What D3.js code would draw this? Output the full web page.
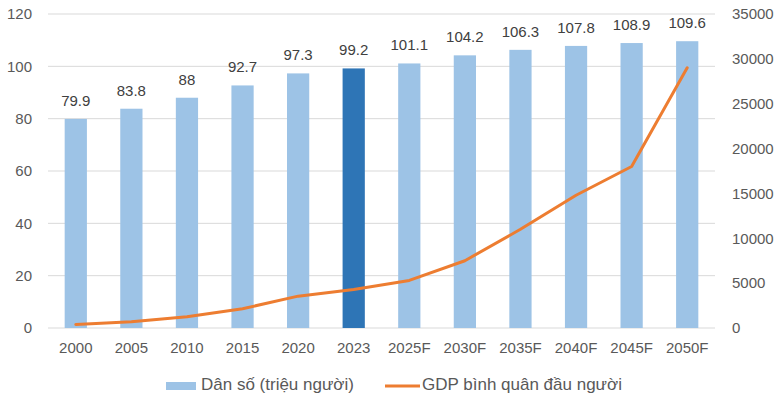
<!DOCTYPE html>
<html>
<head>
<meta charset="utf-8">
<script src="https://cdn.jsdelivr.net/npm/d3@7"></script>
<style>
  html, body { margin: 0; padding: 0; background: #fff; }
  svg { display: block; }
</style>
</head>
<body>
<svg id="chart" width="780" height="400"></svg>
<script>
const categories = ["2000","2005","2010","2015","2020","2023","2025F","2030F","2035F","2040F","2045F","2050F"];
const population = [79.9, 83.8, 88, 92.7, 97.3, 99.2, 101.1, 104.2, 106.3, 107.8, 108.9, 109.6];
const gdpPerCapita = [400, 700, 1250, 2150, 3550, 4300, 5300, 7500, 11000, 14800, 18000, 29000];
const leftTicks = [0, 20, 40, 60, 80, 100, 120];
const rightTicks = [0, 5000, 10000, 15000, 20000, 25000, 30000, 35000];
const highlight = "2023";
const seriesNames = ["Dân số (triệu người)", "GDP bình quân đầu người"];

const svg = d3.select("#chart");
const font = "'Liberation Sans', Arial, sans-serif";
const textColor = "#595959";

const plot = { left: 48, right: 715, top: 14, bottom: 328 };

const x = d3.scaleBand().domain(categories).range([plot.left, plot.right]).paddingInner(0.6).paddingOuter(0.3);
const yL = d3.scaleLinear().domain([0, 120]).range([plot.bottom, plot.top]);
const yR = d3.scaleLinear().domain([0, 35000]).range([plot.bottom, plot.top]);

// gridlines
svg.append("g").selectAll("line").data(leftTicks).join("line")
  .attr("x1", plot.left).attr("x2", plot.right)
  .attr("y1", d => yL(d)).attr("y2", d => yL(d))
  .attr("stroke", "#d9d9d9").attr("stroke-width", 1);

// left axis
const axL = svg.append("g").attr("transform", `translate(${plot.left},0)`)
  .call(d3.axisLeft(yL).tickValues(leftTicks).tickSize(0).tickPadding(16));
axL.select(".domain").remove();
axL.selectAll("text").attr("font-family", font).attr("font-size", 15).attr("fill", textColor);

// right axis
const axR = svg.append("g").attr("transform", `translate(${plot.right},0)`)
  .call(d3.axisRight(yR).tickValues(rightTicks).tickSize(0).tickPadding(17).tickFormat(d3.format("d")));
axR.select(".domain").remove();
axR.selectAll("text").attr("font-family", font).attr("font-size", 15).attr("fill", textColor);

// bottom axis
const axB = svg.append("g").attr("transform", `translate(0,${plot.bottom})`)
  .call(d3.axisBottom(x).tickSize(0).tickPadding(14));
axB.select(".domain").remove();
axB.selectAll("text").attr("font-family", font).attr("font-size", 15).attr("fill", textColor);

// bars
svg.append("g").selectAll("rect").data(categories).join("rect")
  .attr("x", d => x(d))
  .attr("width", x.bandwidth())
  .attr("y", (d, i) => yL(population[i]))
  .attr("height", (d, i) => yL(0) - yL(population[i]))
  .attr("fill", d => d === highlight ? "#2e75b6" : "#9dc3e6");

// bar labels
svg.append("g").selectAll("text").data(categories).join("text")
  .attr("x", d => x(d) + x.bandwidth() / 2)
  .attr("y", (d, i) => yL(population[i]) - 13)
  .attr("text-anchor", "middle")
  .attr("font-family", font).attr("font-size", 15).attr("fill", "#404040")
  .text((d, i) => population[i]);

// line
const line = d3.line()
  .x((d, i) => x(categories[i]) + x.bandwidth() / 2)
  .y(d => yR(d));
svg.append("path").datum(gdpPerCapita)
  .attr("d", line)
  .attr("fill", "none")
  .attr("stroke", "#ed7d31")
  .attr("stroke-width", 3)
  .attr("stroke-linejoin", "round")
  .attr("stroke-linecap", "round");

// legend
const lg = svg.append("g").attr("font-family", font).attr("font-size", 17).attr("fill", textColor);
lg.append("rect").attr("x", 166).attr("y", 382).attr("width", 30).attr("height", 8).attr("fill", "#9dc3e6");
lg.append("text").attr("x", 201).attr("y", 390).text(seriesNames[0]);
lg.append("line").attr("x1", 385).attr("x2", 420).attr("y1", 386).attr("y2", 386)
  .attr("stroke", "#ed7d31").attr("stroke-width", 3);
lg.append("text").attr("x", 422).attr("y", 390).text(seriesNames[1]);
</script>
</body>
</html>
